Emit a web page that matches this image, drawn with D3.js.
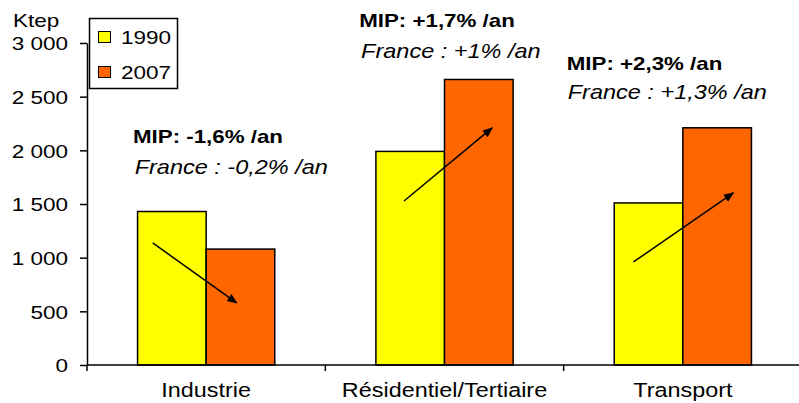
<!DOCTYPE html>
<html>
<head>
<meta charset="utf-8">
<script src="https://cdn.jsdelivr.net/npm/d3@7"></script>
<style>
  body { margin: 0; background: #fff; }
  text { font-family: "Liberation Sans", Arial, sans-serif; fill: #000; }
</style>
</head>
<body>
<div id="chart"></div>
<script>
// data
var categories = ["Industrie", "Résidentiel/Tertiaire", "Transport"];
var series = ["1990", "2007"];
var values1990 = [1430, 1990, 1510];
var values2007 = [1080, 2660, 2210];
var yTicks = [0, 500, 1000, 1500, 2000, 2500, 3000];
var colors = ["#FFFF00", "#FF6600"];

// annotations: [band fraction, value]
var mipLabels = ["MIP: -1,6% /an", "MIP: +1,7% /an", "MIP: +2,3% /an"];
var franceLabels = ["France : -0,2% /an", "France : +1% /an", "France : +1,3% /an"];
var mipPos = [[0.193, 2069], [0.142, 3150], [0.013, 2749]];
var francePos = [[0.200, 1780], [0.150, 2862], [0.017, 2480]];
var arrowStart = [[0.276, 1137], [0.330, 1528], [0.293, 960]];
var arrowEnd = [[0.628, 578], [0.700, 2209], [0.712, 1603]];

var width = 799, height = 403;
var sx = 1.2; // text in the picture is stretched horizontally

var svg = d3.select("#chart").append("svg")
    .attr("width", width)
    .attr("height", height);

svg.append("defs").append("marker")
    .attr("id", "head")
    .attr("viewBox", "0 0 10 10")
    .attr("refX", 9).attr("refY", 5)
    .attr("markerWidth", 7).attr("markerHeight", 7)
    .attr("orient", "auto")
  .append("path")
    .attr("d", "M0,1 L10,5 L0,9 Z")
    .attr("fill", "#000");

var x0 = d3.scaleBand().domain(categories).range([87, 802]);
var x1 = d3.scaleBand().domain(series).range([0, x0.bandwidth()]).paddingOuter(0.737);
var y = d3.scaleLinear().domain([0, 3000]).range([365, 43]);

var fr = d3.formatLocale({thousands: " ", grouping: [3], decimal: ","});

function label(g, txt, x, y, opts) {
    opts = opts || {};
    return g.append("text")
        .attr("transform", "translate(" + x + "," + y + ") scale(" + sx + ",1)")
        .attr("text-anchor", opts.anchor || "start")
        .style("font-size", (opts.size || 18.75) + "px")
        .style("font-weight", opts.weight || "normal")
        .style("font-style", opts.style || "normal")
        .text(txt);
}

// bars
var rows = categories.map(function(c, i) {
    return {cat: c, vals: [values1990[i], values2007[i]]};
});

svg.append("g").selectAll("g")
    .data(rows)
    .join("g")
    .attr("transform", d => "translate(" + x0(d.cat) + ",0)")
  .selectAll("rect")
    .data(d => d.vals.map((v, j) => ({s: series[j], v: v, c: colors[j]})))
    .join("rect")
    .attr("x", d => x1(d.s))
    .attr("width", x1.bandwidth())
    .attr("y", d => y(d.v))
    .attr("height", d => y(0) - y(d.v))
    .attr("fill", d => d.c)
    .attr("stroke", "#000")
    .attr("stroke-width", 1.5);

// y axis
var yAxis = svg.append("g")
    .attr("transform", "translate(87,0)")
    .call(d3.axisLeft(y).tickValues(yTicks).tickSize(7).tickSizeOuter(0)
        .tickFormat(fr.format(",")));
yAxis.select(".domain").attr("stroke-width", 1.5);
yAxis.selectAll(".tick line").attr("stroke-width", 1.5);
yAxis.selectAll(".tick text")
    .attr("x", null)
    .attr("dy", "0.36em")
    .attr("transform", "translate(-19,0) scale(" + sx + ",1)")
    .style("font-size", "18.75px")
    .style("font-family", "'Liberation Sans', Arial, sans-serif");

label(svg, "Ktep", 13, 27);

// x axis
var xa = svg.append("g");
xa.append("line")
    .attr("x1", x0.range()[0]).attr("x2", x0.range()[1])
    .attr("y1", y(0)).attr("y2", y(0))
    .attr("stroke", "#000").attr("stroke-width", 1.5);
var xt = categories.map(c => x0(c)).concat([x0.range()[1]]);
xa.selectAll(".xt")
    .data(xt)
    .join("line")
    .attr("class", "xt")
    .attr("x1", d => d).attr("x2", d => d)
    .attr("y1", y(0)).attr("y2", y(0) + 6)
    .attr("stroke", "#000").attr("stroke-width", 1.5);
categories.forEach(function(c) {
    label(xa, c, x0(c) + x0.bandwidth() / 2, 397, {anchor: "middle", size: 19.5});
});

// arrows and growth notes
categories.forEach(function(c, i) {
    var bx = x0(c), bw = x0.bandwidth();
    svg.append("line")
        .attr("x1", bx + arrowStart[i][0] * bw)
        .attr("y1", y(arrowStart[i][1]))
        .attr("x2", bx + arrowEnd[i][0] * bw)
        .attr("y2", y(arrowEnd[i][1]))
        .attr("stroke", "#000")
        .attr("stroke-width", 1.5)
        .attr("marker-end", "url(#head)");
    label(svg, mipLabels[i], bx + mipPos[i][0] * bw, y(mipPos[i][1]), {weight: "bold", size: 18.6});
    label(svg, franceLabels[i], bx + francePos[i][0] * bw, y(francePos[i][1]), {style: "italic", size: 19.6});
});

// legend
var lg = svg.append("g");
lg.append("rect")
    .attr("x", 89.5).attr("y", 18.5)
    .attr("width", 88).attr("height", 70)
    .attr("fill", "#fff").attr("stroke", "#000").attr("stroke-width", 1.5);
series.forEach(function(s, i) {
    lg.append("rect")
        .attr("x", 98.5).attr("y", 31.5 + i * 35)
        .attr("width", 12).attr("height", 11)
        .attr("fill", colors[i]).attr("stroke", "#000").attr("stroke-width", 1);
    label(lg, s, 121, 44 + i * 35);
});
</script>
</body>
</html>
